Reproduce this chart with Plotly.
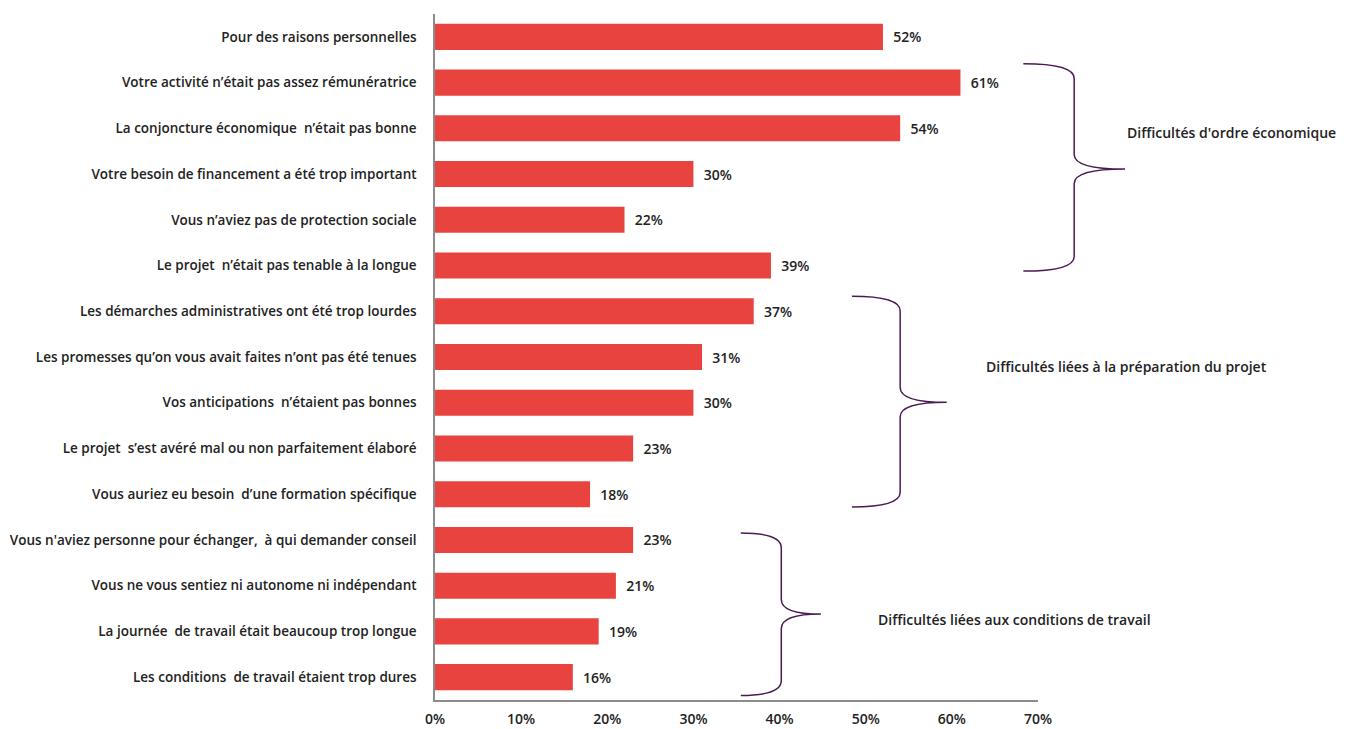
import plotly.graph_objects as go

categories = [
    "Pour des raisons personnelles",
    "Votre activité n’était pas assez rémunératrice",
    "La conjoncture économique  n’était pas bonne",
    "Votre besoin de financement a été trop important",
    "Vous n’aviez pas de protection sociale",
    "Le projet  n’était pas tenable à la longue",
    "Les démarches administratives ont été trop lourdes",
    "Les promesses qu’on vous avait faites n’ont pas été tenues",
    "Vos anticipations  n’étaient pas bonnes",
    "Le projet  s’est avéré mal ou non parfaitement élaboré",
    "Vous auriez eu besoin  d’une formation spécifique",
    "Vous n'aviez personne pour échanger,  à qui demander conseil",
    "Vous ne vous sentiez ni autonome ni indépendant",
    "La journée  de travail était beaucoup trop longue",
    "Les conditions  de travail étaient trop dures",
]
values = [52, 61, 54, 30, 22, 39, 37, 31, 30, 23, 18, 23, 21, 19, 16]
tick_vals = [0, 10, 20, 30, 40, 50, 60, 70]
tick_text = ["0%", "10%", "20%", "30%", "40%", "50%", "60%", "70%"]

# groups: (label, first cat pos, last cat pos, mid pos, left x %, spine x %, tip x %, label x %, label pos)
groups = [
    ("Difficultés d'ordre économique", 0.59, 5.12, 2.89, 68.3, 74.2, 80.1, 80.1, 2.1),
    ("Difficultés liées à la préparation du projet", 5.67, 10.28, 7.99, 48.4, 54.0, 59.4, 63.7, 7.2),
    ("Difficultés liées aux conditions de travail", 10.85, 14.4, 12.62, 35.5, 40.2, 44.8, 51.2, 12.73),
]

XMAX = 70
NCAT = len(categories)
FONT = "Open Sans"
W = 600

def px(xv):
    return xv / XMAX

def py(c):
    return (NCAT - 0.5 - c) / NCAT

fig = go.Figure()
fig.add_trace(go.Bar(
    y=categories,
    x=values,
    orientation="h",
    marker=dict(color="#E8433E", line=dict(width=0)),
    text=[f"\u00a0\u00a0{v}%" for v in values],
    textposition="outside",
    textfont=dict(family=FONT, size=14, color="#222222", weight=W),
    cliponaxis=False,
    hoverinfo="skip",
))

shapes = []
annotations = []
d = 0.32  # curve size in category units
for label, top, bot, mid, xl, xs, xt, lx, lpos in groups:
    path = (
        f"M {px(xl)},{py(top)} "
        f"Q {px(xs)},{py(top)} {px(xs)},{py(top + d)} "
        f"L {px(xs)},{py(mid - d)} "
        f"Q {px(xs)},{py(mid)} {px(xt)},{py(mid)} "
        f"Q {px(xs)},{py(mid)} {px(xs)},{py(mid + d)} "
        f"L {px(xs)},{py(bot - d)} "
        f"Q {px(xs)},{py(bot)} {px(xl)},{py(bot)}"
    )
    shapes.append(dict(type="path", xref="paper", yref="paper", path=path,
                       line=dict(color="#4B1A55", width=1.5)))
    annotations.append(dict(xref="paper", yref="paper", x=px(lx), y=py(lpos),
                            text=label, showarrow=False, xanchor="left", yanchor="middle",
                            font=dict(family=FONT, size=14, color="#222222", weight=W)))

fig.update_layout(
    width=1371, height=729,
    margin=dict(l=435, r=333, t=14, b=29),
    plot_bgcolor="white", paper_bgcolor="white",
    showlegend=False,
    bargap=0.43,
    font=dict(family=FONT, size=14, color="#222222"),
    shapes=shapes,
    annotations=annotations,
    xaxis=dict(range=[0, XMAX], tickvals=tick_vals, ticktext=tick_text, automargin=False,
               showgrid=False, zeroline=False, showline=True, linecolor="#8c8c8c", linewidth=1.5,
               ticks="", ticklabelstandoff=5,
               tickfont=dict(family=FONT, size=14, color="#222222", weight=W)),
    yaxis=dict(range=[NCAT - 0.5, -0.5], showgrid=False, zeroline=False, showline=True,
               automargin=False,
               linecolor="#8c8c8c", linewidth=1.5, ticks="", ticklabelstandoff=14,
               tickfont=dict(family=FONT, size=13.5, color="#222222", weight=W)),
)

fig.write_html("out.html")
